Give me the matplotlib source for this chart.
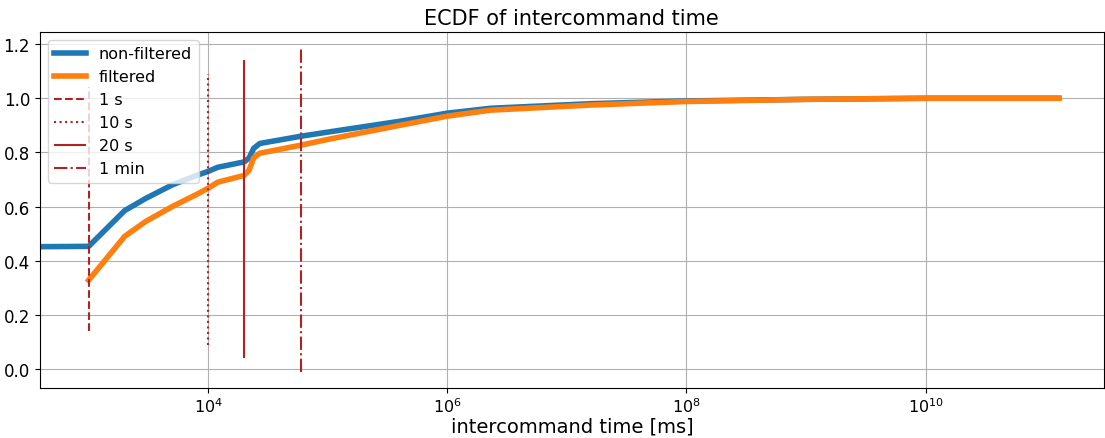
import matplotlib
matplotlib.use('Agg')
from matplotlib import pyplot as plt

# intercommand time [ms] and ECDF values
time_nf = [100, 1000, 2000, 3000, 5000, 8000, 10000, 12000, 20000, 22000, 24000, 27000,
           60000, 1e5, 4e5, 1e6, 2.3e6, 1.6e7, 1e8, 1e9, 1e10, 1.3e11]
ecdf_nf = [0.45, 0.453, 0.585, 0.63, 0.68, 0.715, 0.73, 0.745, 0.765, 0.78, 0.815, 0.833,
           0.86, 0.875, 0.915, 0.945, 0.963, 0.98, 0.99, 0.996, 1.0, 1.0]

time_f = [1000, 2000, 3000, 5000, 8000, 10000, 12000, 20000, 22000, 24000, 27000,
          60000, 1e5, 4e5, 1e6, 2.3e6, 1.6e7, 1e8, 1e9, 1e10, 1.3e11]
ecdf_f = [0.328, 0.49, 0.545, 0.60, 0.645, 0.668, 0.69, 0.715, 0.735, 0.78, 0.797,
          0.827, 0.848, 0.90, 0.934, 0.956, 0.975, 0.988, 0.996, 1.0, 1.0]

# threshold markers
thr_ms = [1000, 10000, 20000, 60000]
thr_labels = ['1 s', '10 s', '20 s', '1 min']
thr_styles = ['--', ':', '-', '-.']
thr_ymin = [0.14, 0.09, 0.04, -0.01]
thr_ymax = [1.04, 1.09, 1.14, 1.19]

fig = plt.figure(figsize=(11.05, 4.39), dpi=100)
ax = fig.add_axes([0.036, 0.114, 0.963, 0.811])

ax.plot(time_nf, ecdf_nf, lw=4, color='C0', label='non-filtered')
ax.plot(time_f, ecdf_f, lw=4, color='C1', label='filtered')
for t, lab, ls, y0, y1 in zip(thr_ms, thr_labels, thr_styles, thr_ymin, thr_ymax):
    ax.vlines(t, y0, y1, colors='firebrick', linestyles=ls, lw=1.5, label=lab)

ax.set_xscale('log')
ax.set_xlim(390, 3.1e11)
ax.set_ylim(-0.07, 1.245)
ax.set_xticks([1e4, 1e6, 1e8, 1e10])
ax.minorticks_off()
ax.grid(True, color='#b0b0b0', lw=0.8)
ax.tick_params(axis='y', labelsize=12)
ax.tick_params(axis='x', labelsize=11.5, pad=2.5)
ax.set_xlabel('intercommand time [ms]', fontsize=14, labelpad=1)
ax.set_title('ECDF of intercommand time', fontsize=15)
ax.legend(loc='upper left', fontsize=11.5)

fig.savefig('out.png', dpi=100)
